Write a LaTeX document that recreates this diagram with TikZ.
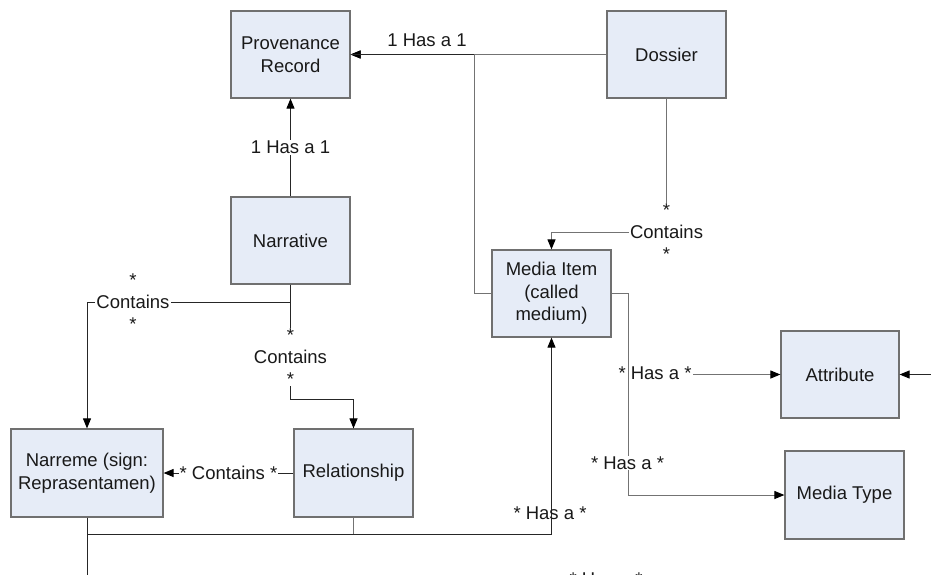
\documentclass[tikz,border=0pt]{standalone}
\usepackage{fontspec}
\setmainfont{Liberation Sans}
\usetikzlibrary{arrows.meta,
                positioning}
\definecolor{boxfill}{RGB}{230,236,247}
\definecolor{boxline}{RGB}{112,112,112}

\begin{document}
\begin{tikzpicture}[
      x = 1pt, y = -1pt,
    box/.style = {rectangle, draw=boxline, fill=boxfill, line width=1.2pt,
                  minimum width=119pt, minimum height=87pt,
                  align=center, inner sep=2pt, text=black!90,
                  font=\fontsize{18.5}{22.5}\selectfont},
    lbl/.style = {align=center, inner sep=1pt, text=black!90,
                  font=\fontsize{18.5}{22}\selectfont},
   link/.style = {draw=black!85, line width=1pt},
  glink/.style = {draw=black!55, line width=1pt},
    arr/.style = {-{Triangle[length=10pt,width=8pt,black]}},
                        ]
\useasboundingbox (0,0) rectangle (931,574);
\clip (0,0) rectangle (931,574);
% classes
\node[box] (prov)    at (290.5,54.5)  {Provenance\\Record};
\node[box] (dossier) at (666.5,54.5)  {Dossier};
\node[box] (narr)    at (290.5,240.5) {Narrative};
\node[box] (media)   at (551.5,293.5) {Media Item\\(called\\medium)};
\node[box, minimum width=152pt, minimum height=88pt]
           (narreme) at (87,473)      {Narreme (sign:\\Reprasentamen)};
\node[box, minimum height=88pt]
           (rel)     at (353.5,473)   {Relationship};
\node[box, minimum width=118pt]
           (attr)    at (840,374.5)   {Attribute};
\node[box, minimum height=88pt]
           (mtype)   at (844.5,495)   {Media Type};
% bends
\coordinate (j1)   at (474,54.5);
\coordinate (b4)   at (666.5,232);
\coordinate (b5)   at (290.5,302);
\coordinate (b6)   at (290.5,399);
\coordinate (b8)   at (87,534);
\coordinate (b11)  at (628,293.5);
\coordinate (off1) at (87,600);
\coordinate (off2) at (950,374.5);
% has a
\draw[glink, arr] (dossier) -- (prov);
\draw[glink, arr] (media.west) -| (j1) -- (prov.east);
\draw[link] (j1) -- (prov);
\node[lbl] (l1) at (427,40) {1 Has a 1};
\draw[link, arr] (narr) -- node[lbl, fill=white] (l2) {1 Has a 1} (prov);
% contains
\draw[glink, arr] (dossier) -- (b4) -| (media);
\node[lbl, fill=white] (l4) at (b4) {*\\Contains\\*};
\draw[link, arr] (narr) -- (b5) -| (narreme);
\node[lbl, fill=white] (l5) at (133,302) {*\\Contains\\*};
\draw[link, arr] (narr) -- (b6) -| (rel);
\node[lbl, fill=white] (l6) at (290.5,357) {*\\Contains\\*};
\draw[link, arr] (rel) -- node[lbl, fill=white] (l7) {* Contains *} (narreme);
% media item links
\draw[link, arr] (narreme) -- (b8) -| (media);
\draw[glink] (rel) -- (rel |- b8);
\node[lbl] (l8) at (550,513) {* Has a *};
\draw[link] (b8) -- (off1);
\node[lbl] (l10) at (606,579) {* Has a *};
\draw[glink, arr] (media) -- (b11) |- (attr);
\node[lbl, fill=white] (l11) at (655,373) {* Has a *};
\draw[glink, arr] (media) -- (b11) |- (mtype);
\node[lbl, fill=white] (l12) at (627.5,463) {* Has a *};
\draw[link, arr] (off2) -- (attr);
\end{tikzpicture}
\end{document}
